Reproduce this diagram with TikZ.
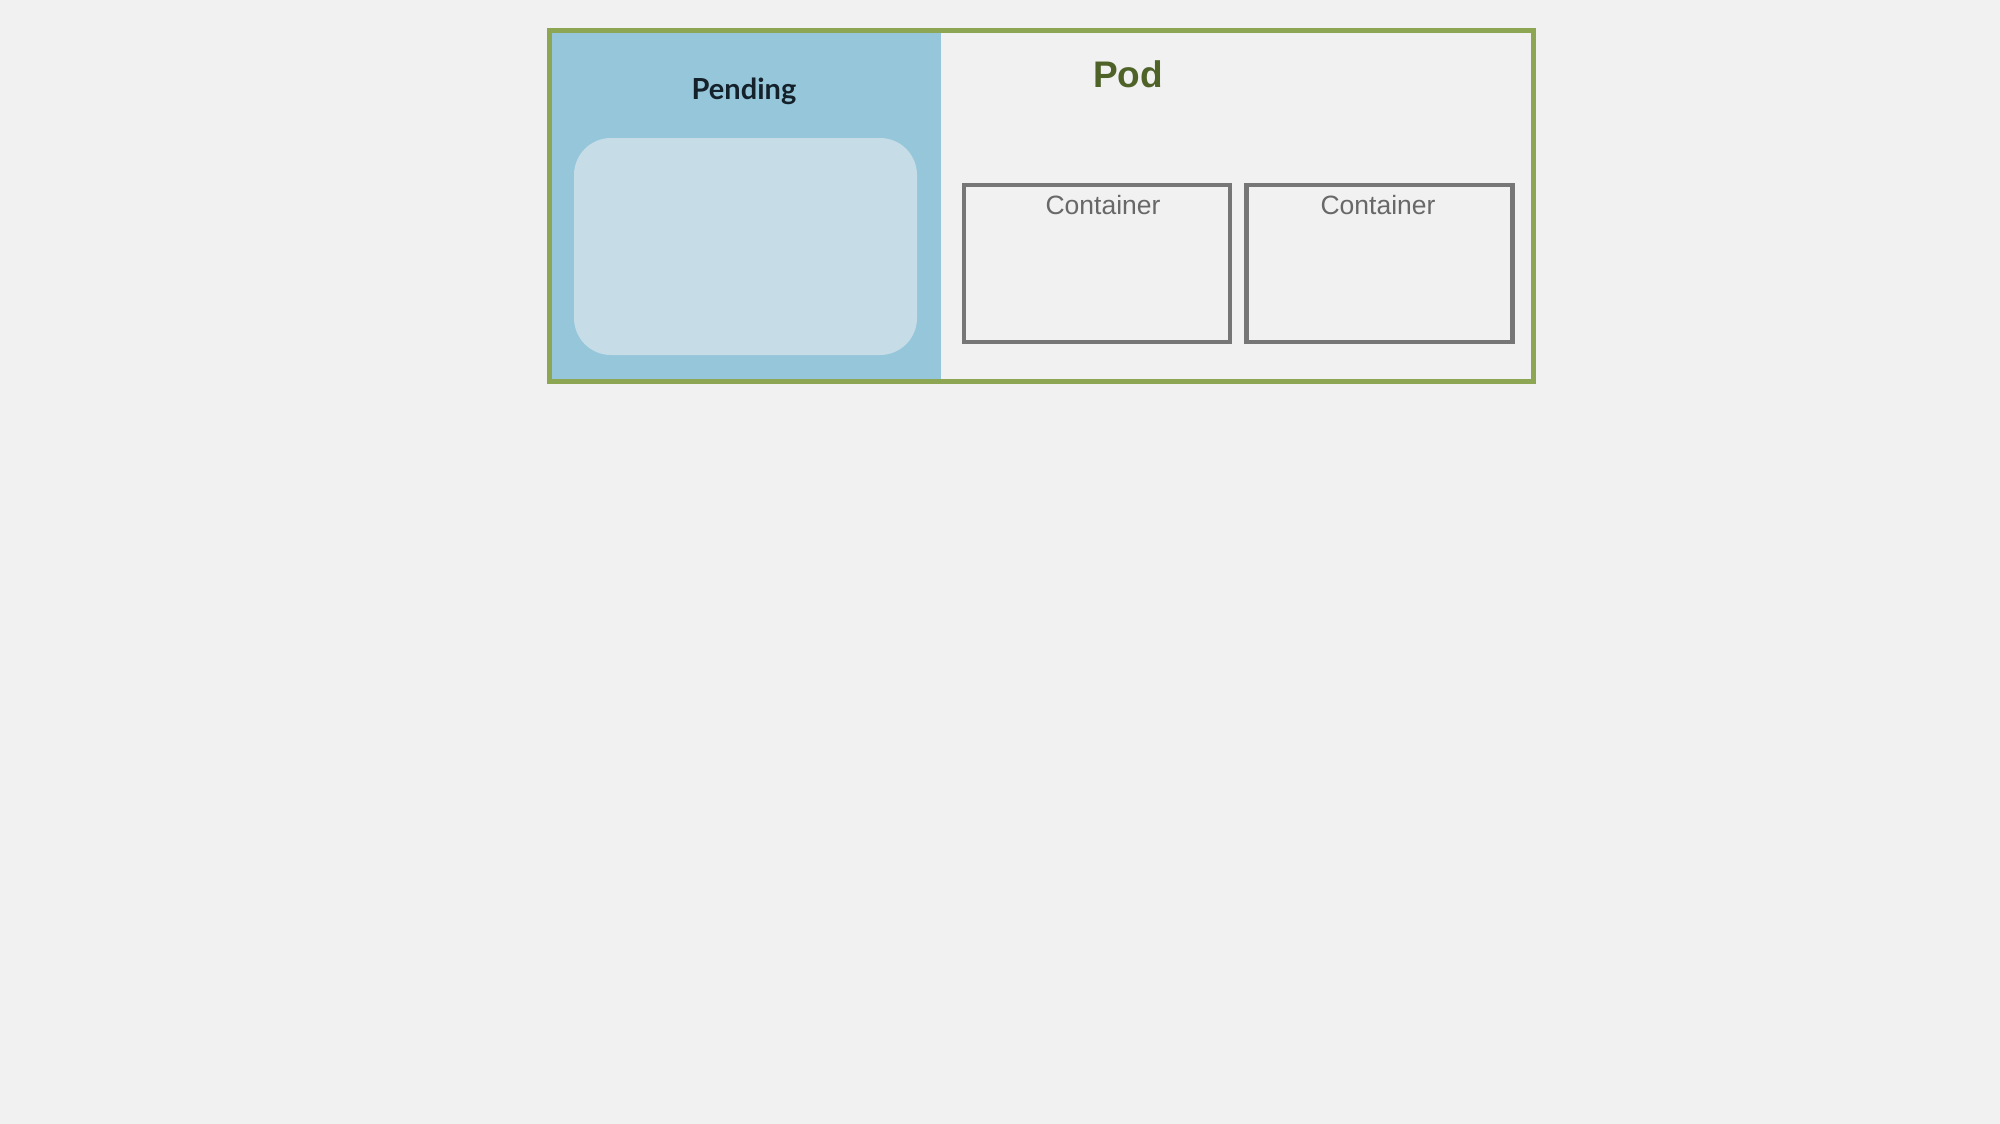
\documentclass[tikz,border=0pt]{standalone}
\usepackage{fontspec}
\setmainfont{Liberation Sans}
\newfontfamily\latofont{Lato}
\definecolor{bgc}{HTML}{F1F1F1}
\definecolor{podgreen}{HTML}{8CA653}
\definecolor{panelblue}{HTML}{96C6DA}
\definecolor{innerblue}{HTML}{C6DDE7}
\definecolor{podtext}{HTML}{4F6228}
\definecolor{pendtext}{HTML}{14202A}
\definecolor{cgray}{HTML}{767676}
\definecolor{ctext}{HTML}{686868}
\tikzset{
  podbox/.style={draw=podgreen, line width=5pt, minimum width=984pt, minimum height=350pt, inner sep=0pt},
  pendbox/.style={fill=innerblue, rounded corners=37pt, minimum width=343pt, minimum height=217pt, inner sep=0pt},
  contbox/.style={draw=cgray, line width=4.5pt, minimum width=266pt, minimum height=157pt, inner sep=0pt},
  contlabel/.style={text=ctext, font=\fontsize{26.5}{30}\selectfont, inner sep=0pt},
}
\begin{document}
\begin{tikzpicture}[x=1pt,y=-1pt]
\useasboundingbox (0,0) rectangle (2000,1124);
\fill[bgc] (0,0) rectangle (2000,1124);
\fill[panelblue] (549,31) rectangle (941,381);
\node[podbox] (pod) at (1041,206) {};
\node[pendbox] (inner) at (745.5,246.5) {};
\node[text=pendtext, font=\latofont\bfseries\fontsize{29}{33}\selectfont, inner sep=0pt] (pending) at (744,91) {Pending};
\node[text=podtext, font=\bfseries\fontsize{37}{42}\selectfont, inner sep=0pt] (podlabel) at (1128,74) {Pod};
\node[contbox] (c1) at (1097,263.5) {};
\node[contbox] (c2) at (1379.5,263.5) {};
\node[contlabel] (l1) at (1103,205) {Container};
\node[contlabel] (l2) at (1378,205) {Container};
\end{tikzpicture}
\end{document}
